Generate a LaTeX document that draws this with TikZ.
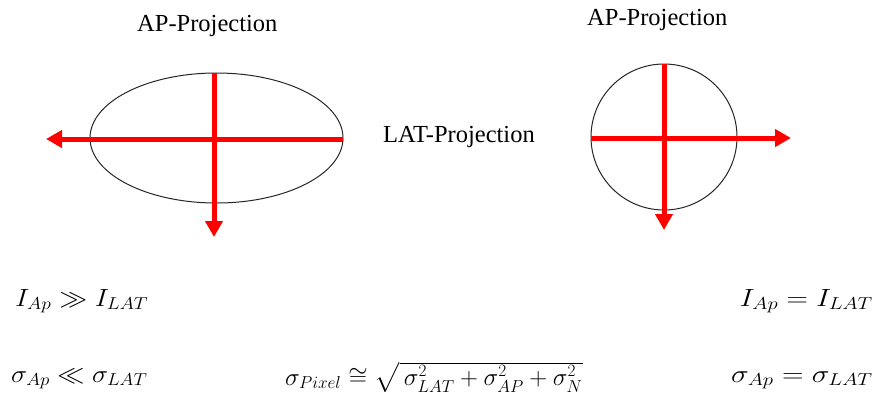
\documentclass[tikz,border=0pt]{standalone}
\usepackage{amsmath,amssymb}
\usepackage{graphicx}
\usepackage{fontspec}
\setmainfont{Liberation Serif}
\usetikzlibrary{arrows.meta,shapes.geometric}
\begin{document}
\begin{tikzpicture}[x=1pt,y=-1pt,
  shapeline/.style={draw=black!85,line width=1pt,inner sep=0pt},
  redarrow/.style={draw=red,line width=5pt,-{Triangle[length=16pt,width=17pt]}},
  label/.style={inner sep=0pt,font=\fontsize{24.5}{28}\selectfont},
  eq/.style={inner sep=0pt,font=\fontsize{25}{29}\selectfont}]
\useasboundingbox[fill=white] (0,0) rectangle (880,402);
% left ellipse
\node[shapeline,ellipse,minimum width=253pt,minimum height=130pt] (ell) at (216.5,138) {};
\coordinate (ellL) at (46,139);
\coordinate (ellR) at (343,139);
\coordinate (ellT) at (214,73);
\coordinate (ellD) at (214,237);
\draw[redarrow] (ellR) -- (ellL);
\draw[redarrow] (ellT) -- (ellD);
% right circle
\node[shapeline,circle,minimum size=146pt] (circ) at (664,137) {};
\coordinate (cL) at (591,138);
\coordinate (cR) at (791,138);
\coordinate (cT) at (664,64);
\coordinate (cD) at (664,230);
\draw[redarrow] (cL) -- (cR);
\draw[redarrow] (cT) -- (cD);
% labels
\node[label,anchor=base west] (ap1) at (137,31) {AP-Projection};
\node[label,anchor=base west] (ap2) at (587,25) {AP-Projection};
\node[label,anchor=base west] (lat) at (383,142) {LAT-Projection};
% equations
\node[eq,anchor=base west] (e1) at (15,306) {\scalebox{1.12}[1]{$I_{Ap} \gg I_{LAT}$}};
\node[eq,anchor=base east] (e2) at (873,306) {\scalebox{1.19}[1]{$I_{Ap} = I_{LAT}$}};
\node[eq,anchor=base west] (e3) at (11,382) {\scalebox{1.09}[1]{$\sigma_{Ap} \ll \sigma_{LAT}$}};
\node[eq,anchor=base east] (e4) at (873,382) {\scalebox{1.2}[1]{$\sigma_{Ap} = \sigma_{LAT}$}};
\node[eq,anchor=base west] (e5) at (285,385) {\scalebox{1.0}[1]{$\sigma_{Pixel} \cong \sqrt{\,\sigma_{LAT}^2 + \sigma_{AP}^2 + \sigma_{N}^2}$}};
\end{tikzpicture}
\end{document}
